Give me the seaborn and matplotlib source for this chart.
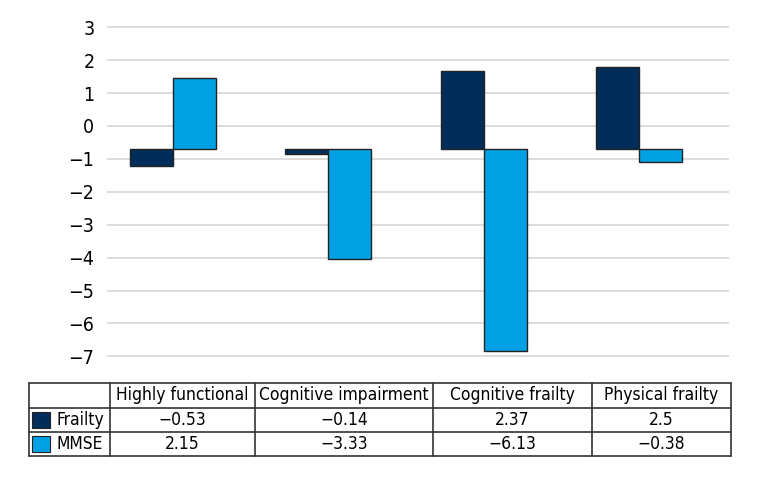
import pandas as pd
import seaborn as sns
import matplotlib.pyplot as plt
from matplotlib.patches import Rectangle

# Data
groups = ['Highly functional', 'Cognitive impairment', 'Cognitive frailty', 'Physical frailty']
series = ['Frailty', 'MMSE']
frailty = [-0.53, -0.14, 2.37, 2.5]
mmse = [2.15, -3.33, -6.13, -0.38]
yticks = list(range(3, -8, -1))
baseline = -0.7  # the original bars hang from this level, not from 0

colors = {'Frailty': '#012d5a', 'MMSE': '#00a0e3'}

df = pd.DataFrame({
    'group': groups * 2,
    'series': ['Frailty'] * len(groups) + ['MMSE'] * len(groups),
    'value': frailty + mmse,
})

sns.set_style('white')
plt.rcParams['font.family'] = ['DejaVu Sans']
plt.rcParams['font.stretch'] = 'condensed'
plt.rcParams['text.color'] = 'black'
plt.rcParams['ytick.color'] = 'black'

W, H = 760, 480
fig = plt.figure(figsize=(W / 100, H / 100), dpi=100)

# main bar axes (pixel layout)
top_px, bot_px = 27.3 - 1.65, 356.3 + 1.65
ax = fig.add_axes([107 / W, 1 - bot_px / H, (729 - 107) / W, (bot_px - top_px) / H])
sns.barplot(data=df, x='group', y='value', hue='series', order=groups, hue_order=series,
            palette=colors, saturation=1, width=0.554, bottom=baseline,
            edgecolor='#222222', linewidth=1, legend=False, ax=ax, zorder=3)

ax.set_xlim(-0.425, 3.58)
ax.set_ylim(-7.05, 3.05)
ax.set_yticks(yticks)
ax.set_xticks([])
ax.set_xlabel('')
ax.set_ylabel('')
ax.yaxis.grid(True, color='#d9d9d9', linewidth=1.3)
ax.set_axisbelow(True)
ax.tick_params(axis='y', length=0, pad=9, labelsize=14, labelcolor='black')
for s in ax.spines.values():
    s.set_visible(False)

# data table under the chart
col_edges = [29, 110, 255, 433, 592, 731]
row_edges = [383, 408, 432, 456]
tax = fig.add_axes([29 / W, 1 - 456 / H, (731 - 29) / W, (456 - 383) / H])
tax.set_xlim(29, 731)
tax.set_ylim(456, 383)
tax.axis('off')

line_kw = dict(color='#333333', linewidth=1.2, clip_on=False)
for y in row_edges:
    tax.plot([col_edges[0], col_edges[-1]], [y, y], **line_kw)
for x in col_edges:
    tax.plot([x, x], [row_edges[0], row_edges[-1]], **line_kw)


def fmt(v):
    return f'{v:g}'.replace('-', '\u2212')


def mid(a, b):
    return (a + b) / 2


for j, g in enumerate(groups):
    tax.text(mid(col_edges[j + 1], col_edges[j + 2]), mid(row_edges[0], row_edges[1]), g,
             ha='center', va='center', fontsize=12.5)

for i, (name, vals) in enumerate(zip(series, [frailty, mmse])):
    y0, y1 = row_edges[i + 1], row_edges[i + 2]
    tax.add_patch(Rectangle((32, y0 + 4), 18, y1 - y0 - 8, facecolor=colors[name],
                            edgecolor='#222222', linewidth=0.8, clip_on=False))
    tax.text(56, mid(y0, y1), name, ha='left', va='center', fontsize=12.5)
    for j, v in enumerate(vals):
        tax.text(mid(col_edges[j + 1], col_edges[j + 2]), mid(y0, y1), fmt(v),
                 ha='center', va='center', fontsize=12.5)

fig.savefig('out.png', dpi=100)
